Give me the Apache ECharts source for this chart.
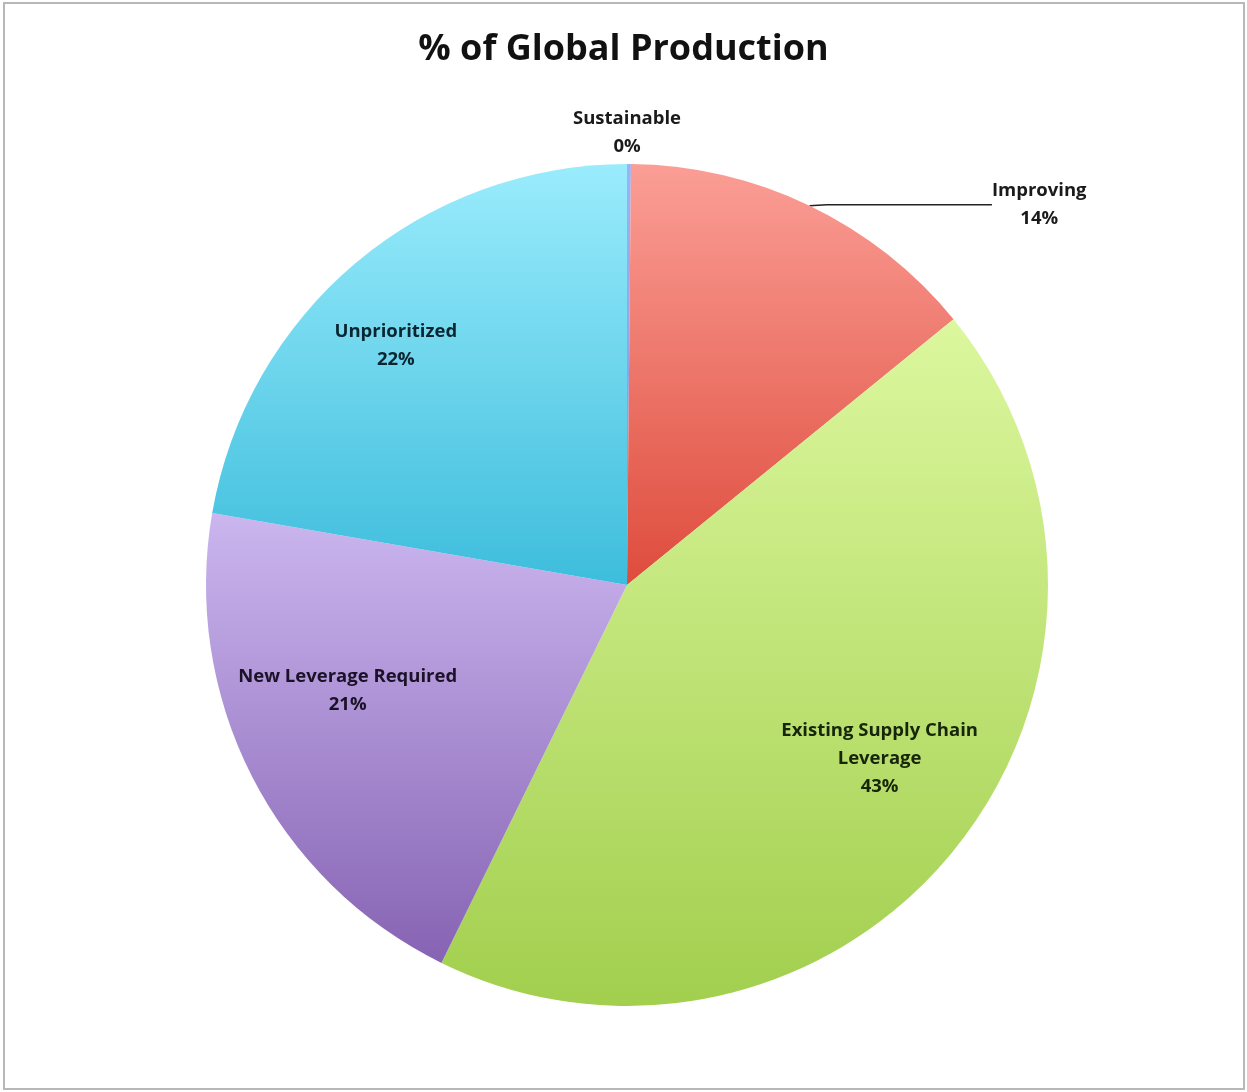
<!DOCTYPE html>
<html>
<head>
  <meta charset="utf-8">
  <title>% of Global Production</title>
  <style>
    html, body {
      margin: 0;
      padding: 0;
      background: #fff;
    }

    .frame {
      position: absolute;
      left: 3px;
      top: 2px;
      width: 1238px;
      height: 1084px;
      border: 2px solid #b8b8b8;
    }

    #chart {
      position: absolute;
      left: 0;
      top: 0;
      width: 1247px;
      height: 1092px;
    }
  </style>
</head>
<body>
  <div class="frame"></div>
  <div id="chart"></div>
  <script src="https://cdn.jsdelivr.net/npm/echarts@6/dist/echarts.min.js"></script>
  <script>
    var categories = ['Sustainable', 'Improving', 'Existing Supply Chain\nLeverage', 'New Leverage Required', 'Unprioritized'];
    var values = [0.15, 14, 43.2, 20.5, 22.3];
    var shownPct = ['0%', '14%', '43%', '21%', '22%'];
    // top (light) / bottom (dark) of each slice's gradient
    var topColors = ['#9cb4f4', '#fb9e96', '#dcf79e', '#cbb6ef', '#9aecfc'];
    var bottomColors = ['#7f95e0', '#de4c3c', '#a2cf4e', '#8663b3', '#3dbddc'];
    var labelColors = ['#1a1a1a', '#1a1a1a', '#172508', '#1b1228', '#0a2532'];

    var cx = 627, cy = 585, R = 421;
    // small nudges so the inside labels sit where Excel put them
    var nudge = [[0, 0], [0, 0], [2, -26], [6, -40], [-25, 6]];

    var chart = echarts.init(document.getElementById('chart'));

    var data = categories.map(function (name, i) {
      var item = {
        name: name,
        value: values[i],
        itemStyle: {
          color: new echarts.graphic.LinearGradient(0, 0, 0, 1, [
            { offset: 0, color: topColors[i] },
            { offset: 1, color: bottomColors[i] }
          ])
        },
        label: { color: labelColors[i] }
      };
      if (i === 0) {
        item.label.position = 'outside';
        item.labelLine = { show: false, length: 0, length2: 0 };
      } else if (i === 1) {
        item.label.position = 'outside';
        item.labelLine = { show: true, length: 10, length2: 165, lineStyle: { color: '#222', width: 1.5 } };
      } else {
        item.label.position = 'inside';
        item.labelLine = { show: false };
      }
      return item;
    });

    var option = {
      animation: false,
      title: {
        text: '% of Global Production',
        left: 'center',
        top: 27,
        textStyle: {
          fontFamily: 'Open Sans',
          fontWeight: 'bold',
          fontSize: 36,
          color: '#111'
        }
      },
      series: [{
        type: 'pie',
        center: [cx, cy],
        radius: R,
        startAngle: 90,
        clockwise: true,
        avoidLabelOverlap: false,
        minAngle: 0,
        itemStyle: { borderWidth: 0 },
        label: {
          show: true,
          fontFamily: 'Open Sans',
          fontWeight: 'bold',
          fontSize: 18.5,
          lineHeight: 28,
          align: 'center',
          formatter: function (p) {
            return p.name + '\n' + shownPct[p.dataIndex];
          }
        },
        labelLayout: function (p) {
          var r = p.labelRect;
          var mx = r.x + r.width / 2;
          var my = r.y + r.height / 2;
          if (p.dataIndex === 0) {
            return { x: cx, y: cy - R - 3, align: 'center', verticalAlign: 'bottom' };
          }
          if (p.dataIndex === 1) {
            return { x: mx + 8, y: my + 8, align: 'center', verticalAlign: 'middle' };
          }
          // push inside labels further out from the centre
          return {
            x: cx + (mx - cx) * 1.5 + nudge[p.dataIndex][0],
            y: cy + (my - cy) * 1.5 + nudge[p.dataIndex][1],
            align: 'center',
            verticalAlign: 'middle'
          };
        },
        data: data
      }]
    };

    chart.setOption(option);
  </script>
</body>
</html>
